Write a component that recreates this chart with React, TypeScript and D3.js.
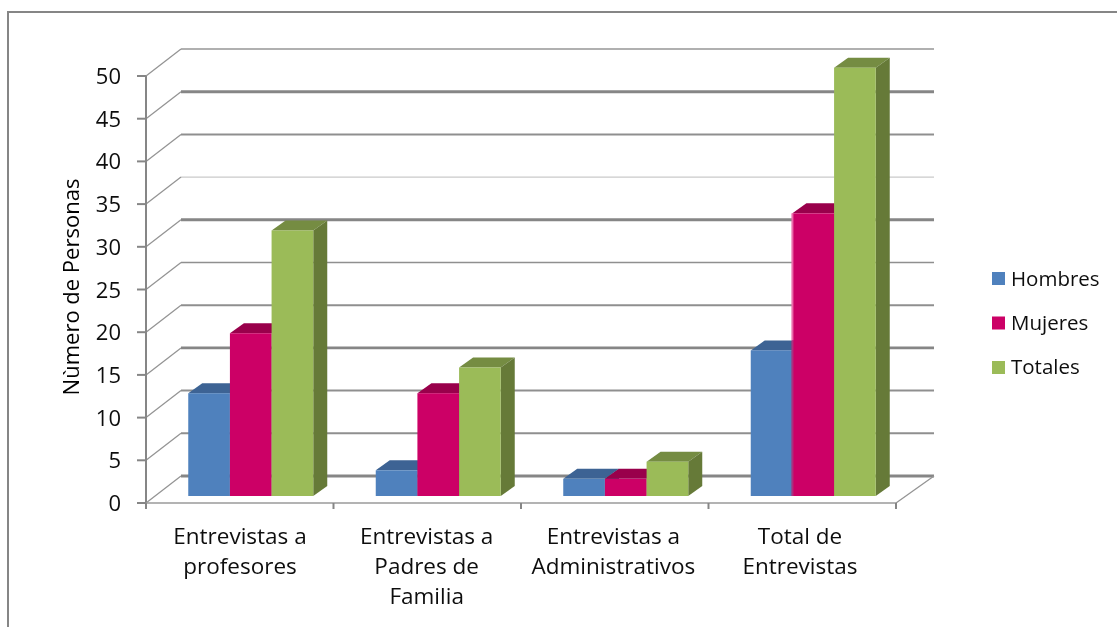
import React from "react";
import * as d3 from "d3";

const categories = [
  ["Entrevistas a", "profesores"],
  ["Entrevistas a", "Padres de", "Familia"],
  ["Entrevistas a", "Administrativos"],
  ["Total de", "Entrevistas"],
];
const seriesNames = ["Hombres", "Mujeres", "Totales"];
const hombres = [12, 3, 2, 17];
const mujeres = [19, 12, 2, 33];
const totales = [31, 15, 4, 50];
const yTicks = [0, 5, 10, 15, 20, 25, 30, 35, 40, 45, 50];
const yTitle = "Nùmero de Personas";

const gridWidths = [3, 2, 2, 2.6, 2, 1.6, 3, 1, 2, 3, 1.4];
const gridColors = ["#868686", "#8f8f8f", "#8f8f8f", "#868686", "#8f8f8f", "#8f8f8f", "#868686", "#bdbdbd", "#8f8f8f", "#868686", "#969696"];
const fronts = ["#4f81bd", "#cc0066", "#9bbb59"];
const tops = ["#3c6494", "#99004c", "#748c43"];
const sides = ["#34587f", "#86003f", "#667a38"];

const FONT = "'Open Sans', sans-serif";
const AX = "#868686";

export default function App() {
  const values = [hombres, mujeres, totales];
  const left = 146, right = 896, y0 = 503, y50 = 76;
  const depthX = 35, depthY = 27;
  const barShiftX = 11, barDepthX = 14, barDepthY = 10;

  const y = d3.scaleLinear().domain([0, 50]).range([y0, y50]);
  const yBar = d3.scaleLinear().domain([0, 50]).range([496, 67.7]);
  const x = d3.scaleBand<number>().domain(d3.range(categories.length)).range([left, right]);
  const inner = d3.scaleBand<number>().domain(d3.range(seriesNames.length)).range([0, x.bandwidth()]).paddingOuter(0.75).paddingInner(0);
  const labelX = d3.scalePoint<number>().domain(d3.range(categories.length)).range([240, 800]);
  const w = inner.bandwidth();

  const poly = (pts: number[][]) => d3.line()(pts as [number, number][]) + "Z";

  return (
    <svg width={1117} height={627} style={{ position: "absolute", left: 0, top: 0, background: "#fff" }} fontFamily={FONT}>
      <defs>
        <filter id="soft" x="-2%" y="-2%" width="104%" height="104%">
          <feGaussianBlur stdDeviation="0.4" />
        </filter>
      </defs>
      <g filter="url(#soft)">
        <path d="M8,627 L8,12 L1117,12" fill="none" stroke={AX} strokeWidth={2} />

        {yTicks.map((t, i) => (
          <g key={t}>
            <line x1={left + depthX} x2={right + depthX + 3} y1={y(t) - depthY} y2={y(t) - depthY} stroke={gridColors[i]} strokeWidth={gridWidths[i]} />
            <line x1={left} x2={left + depthX} y1={y(t)} y2={y(t) - depthY} stroke="#949494" strokeWidth={1.3} />
            <line x1={left - 9} x2={left} y1={y(t)} y2={y(t)} stroke={AX} strokeWidth={2} />
            <text x={121} y={y(t) + 8} textAnchor="end" fontSize={22} fill="#111">{t}</text>
          </g>
        ))}
        <line x1={left} x2={left} y1={y50} y2={y0} stroke={AX} strokeWidth={2} />
        <line x1={left} x2={right} y1={y0} y2={y0} stroke="#9a9a9a" strokeWidth={1.6} />
        <line x1={right} x2={right + depthX + 3} y1={y0} y2={y0 - depthY} stroke="#949494" strokeWidth={1.3} />
        {d3.range(categories.length + 1).map((i) => {
          const tx = left + (i * (right - left)) / categories.length;
          return <line key={i} x1={tx} x2={tx} y1={y0} y2={y0 + 6} stroke={AX} strokeWidth={2} />;
        })}

        {categories.map((_, c) =>
          seriesNames.map((_, s) => {
            const bx = x(c)! + inner(s)! + barShiftX;
            const by = yBar(values[s][c]);
            const base = yBar(0);
            return (
              <g key={s}>
                <path d={poly([[bx, by], [bx + barDepthX, by - barDepthY], [bx + w + barDepthX, by - barDepthY], [bx + w, by]])} fill={tops[s]} />
                <path d={poly([[bx + w, by], [bx + w + barDepthX, by - barDepthY], [bx + w + barDepthX, base - barDepthY], [bx + w, base]])} fill={sides[s]} />
                <rect x={bx} y={by} width={w} height={base - by} fill={fronts[s]} />
                {c === categories.length - 1 && s === 1 && (
                  <>
                    <line x1={bx} x2={bx} y1={by} y2={yBar(values[0][c]) - barDepthY} stroke="#ea6cab" strokeWidth={2} />
                    <line x1={bx} x2={bx} y1={yBar(values[0][c]) - barDepthY} y2={base} stroke="#a8307f" strokeWidth={2} />
                  </>
                )}
              </g>
            );
          })
        )}

        {categories.map((lines, c) => (
          <text key={c} textAnchor="middle" fontSize={22.5} fill="#111">
            {lines.map((l, i) => (
              <tspan key={i} x={labelX(c)!} y={544 + i * 30}>{l}</tspan>
            ))}
          </text>
        ))}

        <text transform="translate(79,287) rotate(-90)" textAnchor="middle" fontSize={22} fill="#000">{yTitle}</text>

        {seriesNames.map((n, i) => (
          <g key={n}>
            <rect x={992} y={272 + i * 44.5} width={13} height={13} fill={fronts[i]} />
            <text x={1011} y={285.5 + i * 44} fontSize={20.5} fill="#111">{n}</text>
          </g>
        ))}
      </g>
    </svg>
  );
}
